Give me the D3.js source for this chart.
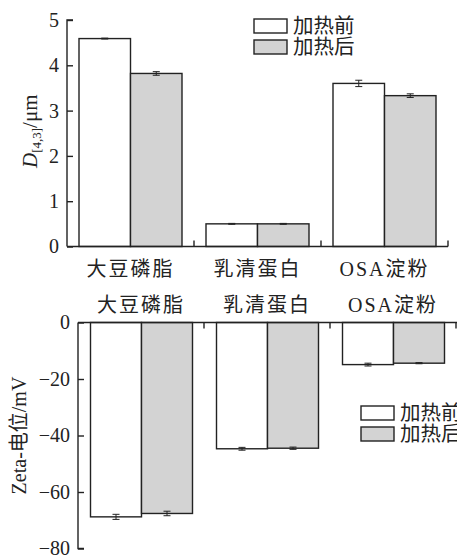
<!DOCTYPE html>
<html>
<head>
<meta charset="utf-8">
<script src="https://cdn.jsdelivr.net/npm/d3@7"></script>
<style>
  body { margin: 0; background: #fff; }
</style>
</head>
<body>
<script>
// categories and series
const categories = ['大豆磷脂', '乳清蛋白', 'OSA淀粉'];
const series = ['加热前', '加热后'];
const colors = ['#ffffff', '#d3d3d3'];

// particle size D[4,3] (μm)
const sizeBefore = [4.59, 0.50, 3.60];
const sizeAfter = [3.82, 0.50, 3.33];
const sizeErrBefore = [0.01, 0.01, 0.07];
const sizeErrAfter = [0.04, 0.01, 0.04];
const sizeTicks = [0, 1, 2, 3, 4, 5];

// zeta potential (mV)
const zetaBefore = [-68.8, -44.7, -14.9];
const zetaAfter = [-67.6, -44.5, -14.4];
const zetaErrBefore = [0.9, 0.5, 0.5];
const zetaErrAfter = [0.8, 0.4, 0.2];
const zetaTicks = [0, -20, -40, -60, -80];

const W = 457, H = 556;
const ink = '#222';
const FONT = '"Liberation Serif", "Noto Sans CJK SC", serif';

const svg = d3.select('body').append('svg')
  .attr('width', W)
  .attr('height', H);

function rows(before, after, eb, ea) {
  return categories.map((c, i) => ({
    cat: c,
    vals: [
      { s: series[0], v: before[i], e: eb[i] },
      { s: series[1], v: after[i], e: ea[i] }
    ]
  }));
}

function label(g, x, y, size, txt) {
  return g.append('text')
    .attr('x', x).attr('y', y)
    .attr('font-size', size)
    .attr('fill', ink)
    .style('font-family', FONT)
    .text(txt);
}

function drawLegend(g, x, y) {
  series.forEach((s, i) => {
    g.append('rect')
      .attr('x', x).attr('y', y + i * 21)
      .attr('width', 33).attr('height', 14)
      .attr('fill', colors[i]).attr('stroke', ink).attr('stroke-width', 1.4);
    label(g, x + 39, y + i * 21 + 14, 20.5, s);
  });
}

function drawBars(g, data, x0, x1, y) {
  const grp = g.selectAll('.grp').data(data).join('g')
    .attr('transform', d => `translate(${x0(d.cat)},0)`);
  grp.selectAll('rect').data(d => d.vals).join('rect')
    .attr('x', d => x1(d.s))
    .attr('width', x1.bandwidth())
    .attr('y', d => Math.min(y(0), y(d.v)))
    .attr('height', d => Math.abs(y(d.v) - y(0)))
    .attr('fill', (d, i) => colors[i])
    .attr('stroke', ink).attr('stroke-width', 1.4);
  // error bars
  grp.selectAll('g.err').data(d => d.vals).join('g')
    .attr('class', 'err')
    .each(function (d) {
      const cx = x1(d.s) + x1.bandwidth() / 2;
      const e = d3.select(this);
      e.append('line')
        .attr('x1', cx).attr('x2', cx)
        .attr('y1', y(d.v - d.e)).attr('y2', y(d.v + d.e))
        .attr('stroke', ink).attr('stroke-width', 1);
      [d.v - d.e, d.v + d.e].forEach(v => {
        e.append('line')
          .attr('x1', cx - 3.5).attr('x2', cx + 3.5)
          .attr('y1', y(v)).attr('y2', y(v))
          .attr('stroke', ink).attr('stroke-width', 1);
      });
    });
}

function styleAxis(ya) {
  ya.selectAll('.tick line').attr('stroke', ink).attr('stroke-width', 1.4);
  ya.selectAll('.tick text').attr('x', -8).attr('text-anchor', 'end')
    .attr('font-size', 20).attr('fill', ink)
    .style('font-family', FONT);
}

// ---------- top chart: particle size ----------
{
  const g = svg.append('g');
  const x0 = d3.scaleBand().domain(categories).range([67, 448]);
  const x1 = d3.scaleBand().domain(series).range([12, 115]);
  const y = d3.scaleLinear().domain([0, 5]).range([246.5, 20]);

  drawBars(g, rows(sizeBefore, sizeAfter, sizeErrBefore, sizeErrAfter), x0, x1, y);

  // y axis, ticks inward
  const ya = g.append('g').attr('transform', 'translate(67,0)')
    .call(d3.axisRight(y).tickValues(sizeTicks).tickSize(6).tickFormat(d3.format('d')));
  ya.select('.domain').attr('stroke', ink).attr('stroke-width', 1.4).attr('d', `M6,${y(5)}H0V${y(0)}`);
  styleAxis(ya);

  // x baseline with boundary ticks pointing up
  g.append('line').attr('x1', 67).attr('x2', 448).attr('y1', y(0)).attr('y2', y(0))
    .attr('stroke', ink).attr('stroke-width', 1.4);
  categories.forEach(c => {
    const bx = x0(c) + x0.bandwidth();
    g.append('line').attr('x1', bx).attr('x2', bx).attr('y1', y(0)).attr('y2', y(0) - 6)
      .attr('stroke', ink).attr('stroke-width', 1.4);
    label(g, x0(c) + x0.bandwidth() / 2, 276, 20, c)
      .attr('text-anchor', 'middle').attr('letter-spacing', 2);
  });

  // y title
  const t = g.append('text')
    .attr('transform', `translate(37,${y(2.5) - 2}) rotate(-90)`)
    .attr('text-anchor', 'middle').attr('font-size', 21).attr('fill', ink)
    .style('font-family', FONT);
  t.append('tspan').attr('font-style', 'italic').text('D');
  t.append('tspan').attr('font-size', 13).attr('dy', 4).text('[4,3]');
  t.append('tspan').attr('dy', -4).text('/μm');

  drawLegend(g, 254, 19);
}

// ---------- bottom chart: zeta potential ----------
{
  const g = svg.append('g');
  const x0 = d3.scaleBand().domain(categories).range([78, 456]);
  const x1 = d3.scaleBand().domain(series).range([12.5, 114.5]);
  const y = d3.scaleLinear().domain([-80, 0]).range([548.5, 322.5]);

  drawBars(g, rows(zetaBefore, zetaAfter, zetaErrBefore, zetaErrAfter), x0, x1, y);

  const ya = g.append('g').attr('transform', 'translate(78,0)')
    .call(d3.axisRight(y).tickValues(zetaTicks).tickSize(6).tickFormat(d => d === 0 ? '0' : '−' + Math.abs(d)));
  ya.select('.domain').attr('stroke', ink).attr('stroke-width', 1.4).attr('d', `M0,${y(0)}V${y(-80)}H6`);
  styleAxis(ya);

  // zero line along the top, ticks pointing down
  g.append('line').attr('x1', 78).attr('x2', W).attr('y1', y(0)).attr('y2', y(0))
    .attr('stroke', ink).attr('stroke-width', 1.4);
  categories.forEach(c => {
    const bx = x0(c) + x0.bandwidth();
    g.append('line').attr('x1', bx).attr('x2', bx).attr('y1', y(0)).attr('y2', y(0) + 6)
      .attr('stroke', ink).attr('stroke-width', 1.4);
    label(g, x0(c) + x0.bandwidth() / 2, 312, 20, c)
      .attr('text-anchor', 'middle').attr('letter-spacing', 2);
  });

  label(g, 0, 0, 20, 'Zeta-电位/mV')
    .attr('transform', `translate(26,${y(-40)}) rotate(-90)`)
    .attr('text-anchor', 'middle');

  drawLegend(g, 361, 406);
}
</script>
</body>
</html>
